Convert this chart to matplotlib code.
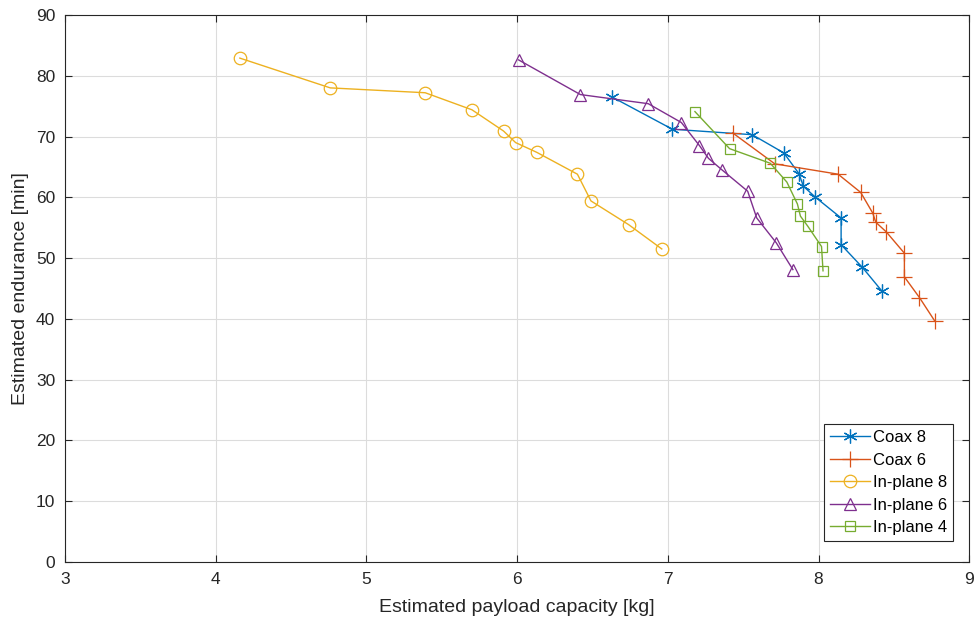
import matplotlib
matplotlib.use("Agg")
import matplotlib.pyplot as plt

plt.rcParams["font.family"] = ["Liberation Sans", "DejaVu Sans"]

# Estimated payload capacity [kg] / endurance [min]
coax8_x = [6.63, 7.03, 7.56, 7.77, 7.87, 7.90, 7.98, 8.15, 8.15, 8.29, 8.42]
coax8_y = [76.5, 71.2, 70.3, 67.3, 63.9, 61.8, 60.0, 56.6, 52.2, 48.5, 44.6]

coax6_x = [7.43, 7.71, 8.13, 8.28, 8.36, 8.38, 8.45, 8.57, 8.57, 8.67, 8.77]
coax6_y = [70.6, 65.5, 63.8, 60.8, 57.4, 55.9, 54.3, 50.8, 46.9, 43.5, 39.7]

inplane8_x = [4.16, 4.76, 5.39, 5.70, 5.91, 5.99, 6.13, 6.40, 6.49, 6.74, 6.96]
inplane8_y = [82.9, 78.0, 77.2, 74.4, 70.9, 69.0, 67.4, 63.8, 59.4, 55.5, 51.5]

inplane6_x = [6.01, 6.42, 6.87, 7.09, 7.21, 7.27, 7.36, 7.53, 7.59, 7.72, 7.83]
inplane6_y = [82.6, 76.9, 75.4, 72.3, 68.5, 66.4, 64.5, 61.0, 56.6, 52.5, 48.1]

inplane4_x = [7.18, 7.41, 7.68, 7.79, 7.86, 7.88, 7.93, 8.02, 8.03]
inplane4_y = [74.1, 68.0, 65.6, 62.5, 58.9, 56.9, 55.2, 51.9, 47.9]

ASTERISK = (6, 2, 0)  # MATLAB-style '*' (line spokes, not a filled star)

series = [
    ("Coax 8", coax8_x, coax8_y, "#0072BD", ASTERISK, 10),
    ("Coax 6", coax6_x, coax6_y, "#D95319", "+", 11),
    ("In-plane 8", inplane8_x, inplane8_y, "#EDB120", "o", 9),
    ("In-plane 6", inplane6_x, inplane6_y, "#7E2F8E", "^", 9),
    ("In-plane 4", inplane4_x, inplane4_y, "#77AC30", "s", 7),
]

fig = plt.figure(figsize=(9.78, 6.23), dpi=100)
ax = fig.add_axes([0.0665, 0.098, 0.9245, 0.878])

for label, xs, ys, color, marker, ms in series:
    ax.plot(xs, ys, color=color, marker=marker, markersize=ms,
            markerfacecolor="none", markeredgecolor=color, markeredgewidth=0.9,
            linewidth=1.0, label=label)

ax.set_xlim(3, 9)
ax.set_ylim(0, 90)
ax.set_xticks(range(3, 10))
ax.set_yticks(range(0, 91, 10))
ax.grid(True, color="#dcdcdc", linewidth=0.8)
ax.set_axisbelow(True)
for s in ax.spines.values():
    s.set_color("#262626")
    s.set_linewidth(0.8)
ax.tick_params(direction="in", top=True, right=True, labelsize=12.5,
               colors="#262626", length=5, pad=7)
ax.set_xlabel("Estimated payload capacity [kg]", fontsize=14, color="#262626",
              labelpad=9)
ax.set_ylabel("Estimated endurance [min]", fontsize=14, color="#262626",
              labelpad=5)

leg = ax.legend(loc="lower right", bbox_to_anchor=(0.986, 0.032), fontsize=12,
                numpoints=1, handlelength=2.4, handletextpad=0.2,
                labelspacing=0.45, borderpad=0.35, borderaxespad=0.2,
                fancybox=False, framealpha=1)
leg.get_frame().set_edgecolor("#262626")
leg.get_frame().set_linewidth(0.8)

fig.savefig("out.png", dpi=100)
